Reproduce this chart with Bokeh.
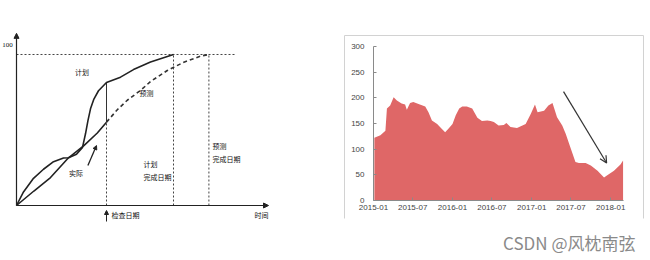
import pandas as pd
from bokeh.plotting import figure
from bokeh.layouts import row
from bokeh.models import (Range1d, Arrow, NormalHead, OpenHead, Label, FixedTicker,
                          DatetimeTickFormatter)
from bokeh.core.properties import value
from bokeh.embed import file_html
from bokeh.resources import INLINE

# ---------------- left: S-curve schedule diagram ----------------
plan_x = [0, 0.35, 0.85, 1.35, 1.85, 2.35, 2.6, 3.0, 3.3, 3.45, 3.57, 3.7, 3.87, 4.1, 4.5, 5.2, 5.85, 6.7, 7.85]
plan_y = [0, 9, 18, 24, 29, 31.5, 31.6, 34, 38.5, 47.5, 56, 64, 70.5, 76, 81.5, 85, 90, 95, 100]
actual_x = [0, 0.87, 1.7, 2.6, 3.37, 4.04, 4.5]
actual_y = [0, 9.6, 18.5, 31.6, 39.7, 48.0, 55.2]
forecast_x = [4.5, 5.04, 5.54, 6.2, 6.7, 7.54, 8.37, 9.2, 9.62]
forecast_y = [55.2, 63.4, 69.7, 76.2, 82.1, 89.4, 94.9, 98.9, 100]
check_date = 4.5
plan_finish = 7.85
forecast_finish = 9.62
full_scale = 100
ref_line_end = 10.95
time_axis_end = 12.6
value_axis_end = 114

CJK = value("Noto Sans CJK SC")

left = figure(width=330, height=260, x_range=Range1d(-0.8, 15.7), y_range=Range1d(-36.42, 135.76),
              x_axis_location=None, y_axis_location=None, toolbar_location=None,
              output_backend="svg", min_border=0)
left.grid.grid_line_color = None
left.outline_line_color = None

# axes with arrow heads
left.add_layout(Arrow(end=NormalHead(size=5, fill_color="#222", line_color="#222"),
                      x_start=0, y_start=0, x_end=0, y_end=value_axis_end,
                      line_color="#222", line_width=1.2))
left.add_layout(Arrow(end=NormalHead(size=5, fill_color="#222", line_color="#222"),
                      x_start=0, y_start=0, x_end=time_axis_end, y_end=0,
                      line_color="#222", line_width=1.2))

# reference dashed lines
left.line([0, ref_line_end], [full_scale, full_scale], line_dash="2 2", line_width=1, color="#444")
left.segment(x0=[plan_finish, forecast_finish], y0=[0, 0],
             x1=[plan_finish, forecast_finish], y1=[full_scale, full_scale],
             line_dash="2 2", line_width=1, color="#444")
left.segment(x0=[check_date], y0=[0], x1=[check_date], y1=[actual_y[-1]],
             line_dash="2 2", line_width=1, color="#444")
left.segment(x0=[check_date], y0=[actual_y[-1]], x1=[check_date], y1=[plan_y[plan_x.index(check_date)]],
             line_width=1, color="#333")

# curves
left.line(plan_x, plan_y, line_width=1.6, color="#222")
left.line(actual_x, actual_y, line_width=1.6, color="#222")
left.line(forecast_x, forecast_y, line_width=1.6, color="#333", line_dash="4 3")

# arrows (check date and actual pointer)
left.add_layout(Arrow(end=NormalHead(size=4, fill_color="#222", line_color="#222"),
                      x_start=check_date, y_start=-10.6, x_end=check_date, y_end=-3.3,
                      line_color="#222", line_width=1))
left.add_layout(Arrow(end=NormalHead(size=4, fill_color="#222", line_color="#222"),
                      x_start=3.57, y_start=26.5, x_end=4.0, y_end=39.7,
                      line_color="#222", line_width=1.3))

# texts
left.text(x=[-0.45], y=[106.6], text=["100"], text_font=value("Liberation Serif"),
          text_font_size="7px", text_align="center", text_baseline="middle", text_color="#111")
left.text(x=[3.28, 6.5, 2.98], y=[88.1, 74.8, 21.2], text=["计划", "预测", "实际"],
          text_font=CJK, text_font_size="7px", text_align="center", text_baseline="middle",
          text_color="#111")
left.text(x=[6.35, 9.8], y=[31.1, 43.0], text=["计划\n完成日期", "预测\n完成日期"],
          text_font=CJK, text_font_size="7px", text_align="left", text_baseline="top",
          text_line_height=1.3, text_color="#111")
left.text(x=[4.75], y=[-6.6], text=["检查日期"], text_font=CJK, text_font_size="7px",
          text_align="left", text_baseline="middle", text_color="#111")
left.text(x=[12.25], y=[-6.6], text=["时间"], text_font=CJK, text_font_size="7px",
          text_align="center", text_baseline="middle", text_color="#111")

# ---------------- right: area chart ----------------
dates = ["2015-01-05", "2015-02-02", "2015-02-25", "2015-03-04", "2015-03-19", "2015-04-04",
         "2015-04-19", "2015-05-11", "2015-05-27", "2015-06-04", "2015-06-19", "2015-07-04",
         "2015-07-28", "2015-08-28", "2015-09-12", "2015-09-28", "2015-10-22", "2015-11-12",
         "2015-11-28", "2015-12-13", "2016-01-01", "2016-01-16", "2016-02-01", "2016-02-15",
         "2016-03-07", "2016-04-01", "2016-04-25", "2016-05-16", "2016-06-10", "2016-06-25",
         "2016-07-10", "2016-08-01", "2016-08-25", "2016-09-06", "2016-09-25", "2016-10-25",
         "2016-11-19", "2016-12-04", "2016-12-28", "2017-01-16", "2017-01-28", "2017-02-27",
         "2017-03-19", "2017-04-07", "2017-04-28", "2017-05-22", "2017-06-07", "2017-06-28",
         "2017-07-22", "2017-08-07", "2017-09-07", "2017-10-01", "2017-11-01", "2017-12-01",
         "2017-12-16", "2018-01-16", "2018-02-15", "2018-02-27"]
values = [122, 127, 136, 179, 185, 201, 195, 189, 187, 177,
          190, 192, 188, 183, 172, 156, 149, 140, 133, 140,
          149, 166, 179, 183, 183, 179, 161, 155, 156, 155,
          153, 146, 147, 151, 143, 141, 146, 149, 169, 187,
          172, 175, 185, 190, 162, 146, 130, 104, 75, 73,
          73, 68, 58, 45, 49, 58, 70, 78]
x_ticks = ["2015-01", "2015-07", "2016-01", "2016-07", "2017-01", "2017-07", "2018-01"]
y_ticks = [0, 50, 100, 150, 200, 250, 300]
y_min, y_max = 0, 300
trend_start = ("2017-05-28", 212)
trend_end = ("2017-12-13", 73)
x_start, x_end = "2015-01-01", "2018-03-01"


def ms(s):
    return pd.Timestamp(s).timestamp() * 1000.0


# The plot frame fills the whole canvas; the axes are pinned inside it.
RW, RH = 320, 260
pad_l, pad_r, pad_t, pad_b = 43, 27, 46, 60
span = ms(x_end) - ms(x_start)
px_x = span / (RW - pad_l - pad_r)
px_y = (y_max - y_min) / (RH - pad_t - pad_b)
right = figure(width=RW, height=RH, x_axis_type="datetime",
               x_range=Range1d(ms(x_start) - pad_l * px_x, ms(x_end) + pad_r * px_x),
               y_range=Range1d(y_min - pad_b * px_y, y_max + pad_t * px_y),
               toolbar_location=None, output_backend="svg", min_border=0)
right.grid.grid_line_color = None
right.outline_line_color = None

right.varea(x=[ms(d) for d in dates], y1=[0] * len(values), y2=values,
            fill_color="#df6767", fill_alpha=1)

right.xaxis.ticker = FixedTicker(ticks=[ms(t + "-01") for t in x_ticks])
right.xaxis.formatter = DatetimeTickFormatter(months="%Y-%m", years="%Y-%m", days="%Y-%m")
right.xaxis.fixed_location = y_min
right.xaxis.bounds = (ms(x_start), ms(x_end))
right.yaxis.ticker = FixedTicker(ticks=y_ticks)
right.yaxis.fixed_location = ms(x_start)
right.yaxis.bounds = (y_min, y_max)
for ax in (right.xaxis, right.yaxis):
    ax.axis_line_color = "#8a8a8a"
    ax.major_tick_line_color = "#8a8a8a"
    ax.major_tick_in = 3
    ax.major_tick_out = 0
    ax.minor_tick_line_color = None
    ax.major_label_text_font = "Liberation Sans"
    ax.major_label_text_font_size = "8px"
    ax.major_label_text_color = "#444"
right.xaxis.major_label_standoff = 4
right.yaxis.major_label_standoff = 9

right.add_layout(Arrow(end=OpenHead(size=7, line_color="#333", line_width=1.2),
                       x_start=ms(trend_start[0]), y_start=trend_start[1],
                       x_end=ms(trend_end[0]), y_end=trend_end[1],
                       line_color="#333", line_width=1.2))

# light frame around the right panel (screen units)
box_col = "#d2d2d2"
for xs, ys, xe, ye in [(14, 42, 14, 225), (14, 225, 313, 225), (313, 225, 313, 42)]:
    right.add_layout(Arrow(end=None, x_start=xs, y_start=ys, x_end=xe, y_end=ye,
                           start_units="screen", end_units="screen",
                           line_color=box_col, line_width=1))

right.add_layout(Label(x=305, y=18.5, x_units="screen", y_units="screen",
                       text="CSDN @风枕南弦", text_font="Noto Sans CJK SC",
                       text_font_size="17px", text_color="#8a8a8a",
                       text_align="right", text_baseline="middle"))

layout = row(left, right)
open("out.html", "w").write(file_html(layout, INLINE))
